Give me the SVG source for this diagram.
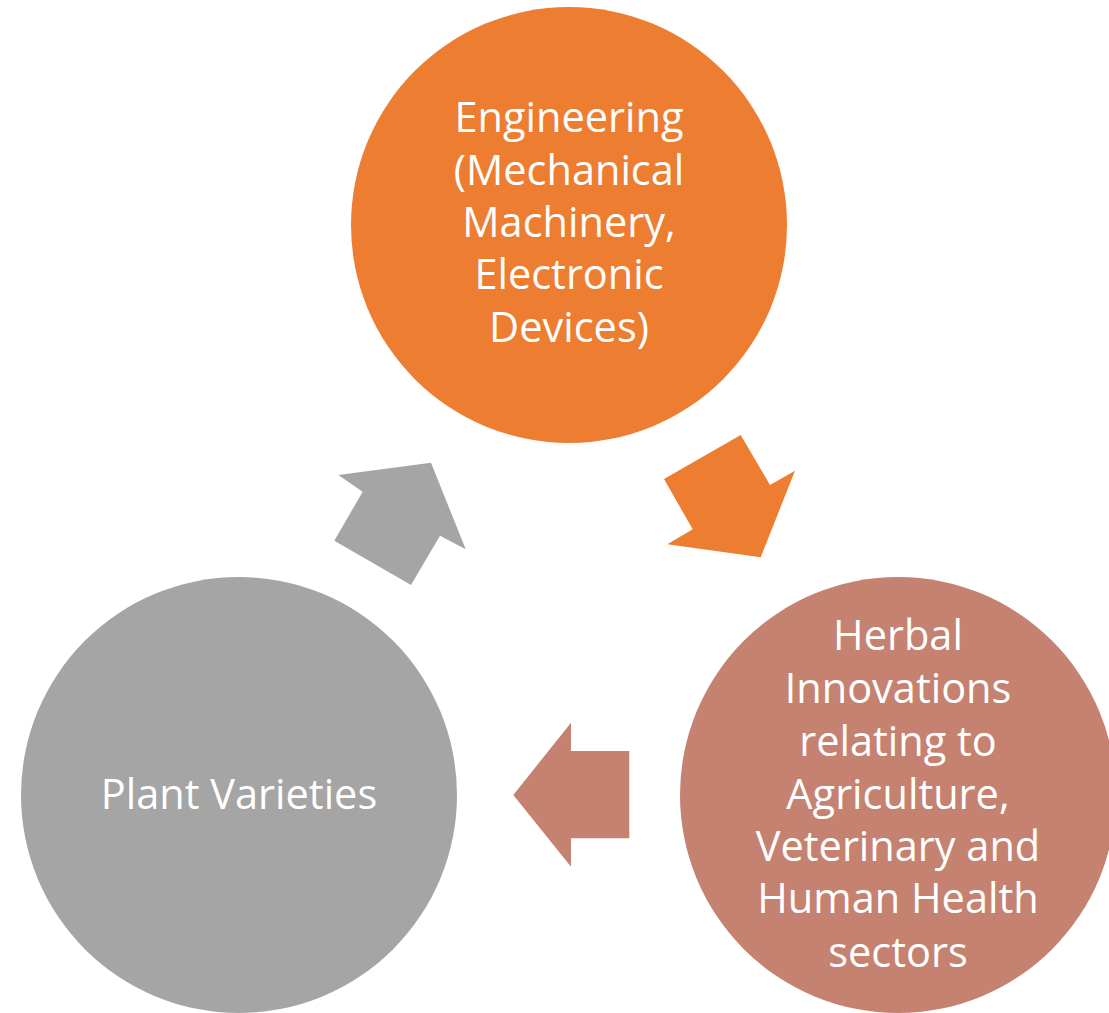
<svg xmlns="http://www.w3.org/2000/svg" width="1109" height="1013" viewBox="0 0 1109 1013">
<style>
.t{fill:#fff;font-family:"Open Sans","Liberation Sans",sans-serif;font-size:41.5px;text-anchor:middle}
</style>
<rect width="1109" height="1013" fill="#fff"/>
<g id="connectors">
<polygon id="arrow-orange" fill="#ED7D31" points="664,479 740.7,435 770,485 795,470.7 760.7,557.3 667.3,544.3 692.7,529.3"/>
<polygon id="arrow-brown" fill="#C58271" points="513.3,795 571,722.7 571,751 629.3,751 629.3,838.3 571,838.3 571,866.7"/>
<polygon id="arrow-gray" fill="#A5A5A5" points="338.3,475 431,462.7 465.7,549.3 440,535.7 411,585 334.3,540.7 362.7,491.7"/>
</g>
<g id="node-engineering">
<circle cx="569" cy="225" r="218" fill="#ED7D31"/>
<text class="t"><tspan x="569" y="132">Engineering</tspan><tspan x="569" y="185">(Mechanical</tspan><tspan x="569" y="237">Machinery,</tspan><tspan x="569" y="289">Electronic</tspan><tspan x="569" y="342">Devices)</tspan></text>
</g>
<g id="node-herbal">
<circle cx="898" cy="795" r="218" fill="#C58271"/>
<text class="t"><tspan x="898" y="650">Herbal</tspan><tspan x="898" y="703">Innovations</tspan><tspan x="898" y="756">relating to</tspan><tspan x="898" y="809">Agriculture,</tspan><tspan x="898" y="861">Veterinary and</tspan><tspan x="898" y="913">Human Health</tspan><tspan x="898" y="967">sectors</tspan></text>
</g>
<g id="node-plant">
<circle cx="239" cy="795" r="218" fill="#A5A5A5"/>
<text class="t" x="239" y="809">Plant Varieties</text>
</g>
</svg>
